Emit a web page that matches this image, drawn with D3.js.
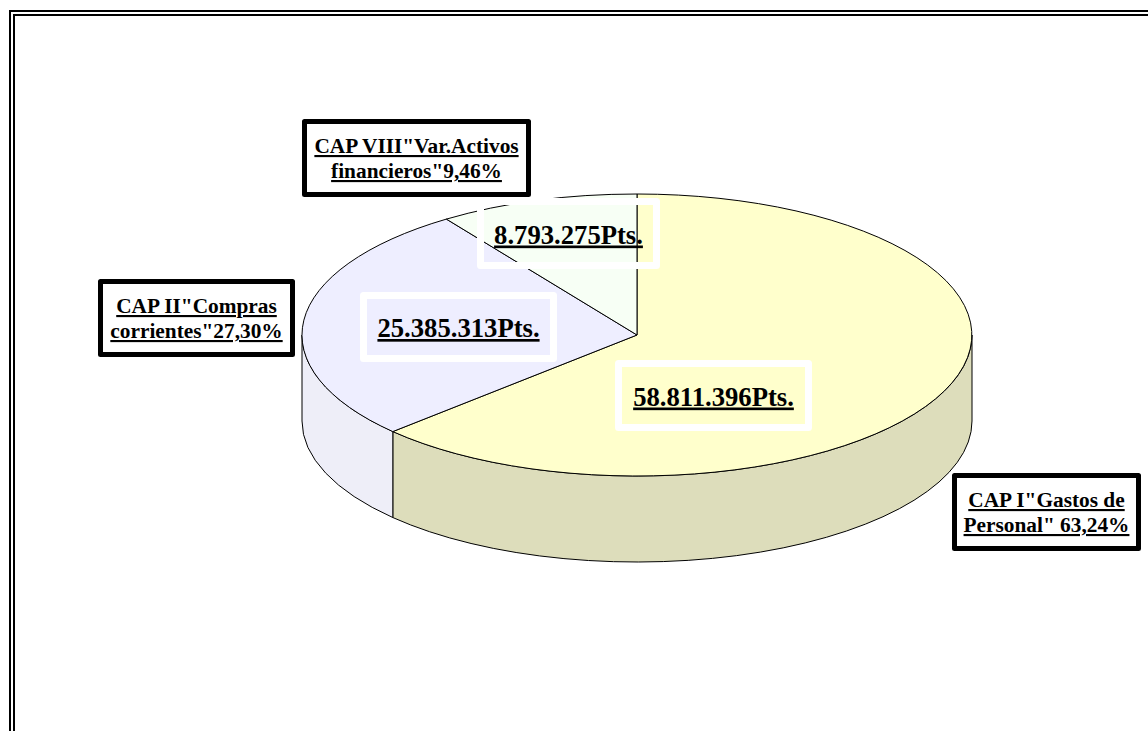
<!DOCTYPE html>
<html><head><meta charset="utf-8">
<script src="https://cdn.jsdelivr.net/npm/d3@7"></script>
<style>
html,body{margin:0;padding:0;background:#fff;overflow:hidden}
svg{display:block}
text{font-family:"Liberation Serif",serif;font-weight:bold;fill:#000;text-decoration:underline;text-anchor:middle;text-decoration-skip-ink:none}
.amount{text-decoration-thickness:3px}
.name{text-decoration-thickness:2px}
</style></head><body>
<script>
const categories = ["CAP I", "CAP II", "CAP VIII"];
const amounts = [58811396, 25385313, 8793275];
const amountLabels = ["58.811.396Pts.", "25.385.313Pts.", "8.793.275Pts."];
const nameLines = [
  ["CAP I''Gastos de", "Personal'' 63,24%"],
  ["CAP II''Compras", "corrientes''27,30%"],
  ["CAP VIII''Var.Activos", "financieros''9,46%"]
].map(l => l.map(s => s.replace(/''/g, '"')));
const topColors = ["#FFFFCC", "#EEEEFF", "#F7FFF5"];
const sideColors = ["#DDDDBB", "#EEEEF8", "#E6EEE4"];

const W = 1148, H = 731;
const pie3d = {cx: 637, cy: 335, rx: 335, ry: 141, depth: 86};
// The source's 3D projection pulls the rim angles slightly; strength in radians
const perspective = 1.2 * Math.PI / 180;
// Label boxes: [left, top, right, bottom] outer edges, in the same order as categories
const nameBoxes = [[952, 473, 1141, 551], [98, 279, 295, 357], [302, 119, 531, 197]];
const amountBoxes = [[615, 360, 812, 431], [360, 292, 557, 362], [477, 198, 660, 269]];

const svg = d3.select("body").append("svg").attr("width", W).attr("height", H);

// Page frame (double rule, running off the right and bottom of the window)
svg.append("rect").attr("x", 10).attr("y", 11).attr("width", W + 40).attr("height", H + 40)
  .attr("fill", "none").attr("stroke", "#000").attr("stroke-width", 2);
svg.append("rect").attr("x", 14).attr("y", 15).attr("width", W + 40).attr("height", H + 40)
  .attr("fill", "none").attr("stroke", "#000").attr("stroke-width", 2);

const warp = a => a + perspective * Math.sin(a);
const slices = d3.pie().sort(null).value(d => d)(amounts)
  .map(s => ({...s, startAngle: warp(s.startAngle), endAngle: warp(s.endAngle)}));
const px = a => pie3d.cx + pie3d.rx * Math.sin(a);
const py = (a, dz = 0) => pie3d.cy - pie3d.ry * Math.cos(a) + dz;

// Side walls: only the front half of the rim (angles between 90deg and 270deg) is visible
const wall = (a0, a1) => {
  const s = Math.max(a0, Math.PI / 2), e = Math.min(a1, Math.PI * 1.5);
  if (e <= s) return null;
  const large = e - s > Math.PI ? 1 : 0;
  return `M${px(s)},${py(s)}A${pie3d.rx},${pie3d.ry} 0 ${large} 1 ${px(e)},${py(e)}` +
         `L${px(e)},${py(e, pie3d.depth)}A${pie3d.rx},${pie3d.ry} 0 ${large} 0 ${px(s)},${py(s, pie3d.depth)}Z`;
};
svg.append("g").selectAll("path").data(slices).join("path")
  .attr("d", d => wall(d.startAngle, d.endAngle))
  .attr("fill", (d, i) => sideColors[i])
  .attr("stroke", "#000").attr("stroke-width", 1).attr("stroke-linejoin", "round");

// Top face: a d3 arc flattened into an ellipse
const arc = d3.arc().innerRadius(0).outerRadius(1);
svg.append("g")
  .attr("transform", `translate(${pie3d.cx},${pie3d.cy}) scale(${pie3d.rx},${pie3d.ry})`)
  .selectAll("path").data(slices).join("path")
  .attr("d", arc)
  .attr("fill", (d, i) => topColors[i])
  .attr("stroke", "#000").attr("stroke-width", 1)
  .attr("vector-effect", "non-scaling-stroke").attr("stroke-linejoin", "round");

// Amount labels: white outline, see-through inside
const am = svg.append("g").selectAll("g").data(categories).join("g");
am.append("rect")
  .attr("x", (d, i) => amountBoxes[i][0] + 3.5).attr("y", (d, i) => amountBoxes[i][1] + 3.5)
  .attr("width", (d, i) => amountBoxes[i][2] - amountBoxes[i][0] - 7)
  .attr("height", (d, i) => amountBoxes[i][3] - amountBoxes[i][1] - 7)
  .attr("fill", "none").attr("stroke", "#fff").attr("stroke-width", 7).attr("stroke-linejoin", "round");
am.append("text").attr("class", "amount")
  .attr("x", (d, i) => (amountBoxes[i][0] + amountBoxes[i][2]) / 2)
  .attr("y", (d, i) => (amountBoxes[i][1] + amountBoxes[i][3]) / 2 + 10)
  .attr("font-size", 26.67).text((d, i) => amountLabels[i]);

// Category labels: heavy black frame
const nm = svg.append("g").selectAll("g").data(categories).join("g");
nm.append("rect")
  .attr("x", (d, i) => nameBoxes[i][0] + 2.5).attr("y", (d, i) => nameBoxes[i][1] + 2.5)
  .attr("width", (d, i) => nameBoxes[i][2] - nameBoxes[i][0] - 5)
  .attr("height", (d, i) => nameBoxes[i][3] - nameBoxes[i][1] - 5)
  .attr("fill", "#fff").attr("stroke", "#000").attr("stroke-width", 5).attr("stroke-linejoin", "round");
nm.each(function(d, i) {
  const b = nameBoxes[i], cx = (b[0] + b[2]) / 2, cy = (b[1] + b[3]) / 2;
  d3.select(this).selectAll("text.name").data(nameLines[i]).join("text").attr("class", "name")
    .attr("x", cx).attr("y", (l, j) => cy - 5 + j * 25).attr("font-size", 21.33).text(l => l);
});
</script>
</body></html>
